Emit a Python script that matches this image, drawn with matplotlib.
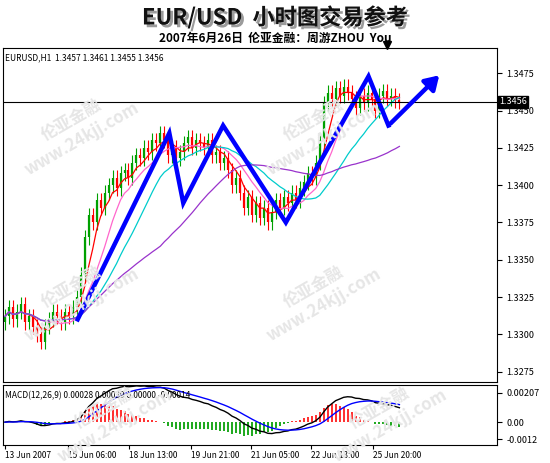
import numpy as np
import pandas as pd
import matplotlib.pyplot as plt
import matplotlib.patheffects as pe

plt.rcParams['font.family'] = ['Noto Sans CJK SC', 'DejaVu Sans']

# hourly closes
closes = [
    1.3312, 1.3318, 1.3310, 1.3315, 1.3320, 1.3308, 1.3312, 1.3305, 1.3300, 1.3295,
    1.3305, 1.3310, 1.3315, 1.3312, 1.3308, 1.3315, 1.3312, 1.3318, 1.3325, 1.3340,
    1.3365, 1.3380, 1.3375, 1.3390, 1.3385, 1.3395, 1.3400, 1.3405, 1.3398, 1.3408,
    1.3410, 1.3405, 1.3415, 1.3420, 1.3418, 1.3425, 1.3422, 1.3430, 1.3428, 1.3435,
    1.3430, 1.3420, 1.3425, 1.3418, 1.3422, 1.3428, 1.3432, 1.3425, 1.3430, 1.3428,
    1.3425, 1.3430, 1.3420, 1.3422, 1.3415, 1.3418, 1.3410, 1.3400, 1.3405, 1.3395,
    1.3385, 1.3392, 1.3380, 1.3388, 1.3378, 1.3385, 1.3375, 1.3382, 1.3390, 1.3385,
    1.3392, 1.3388, 1.3395, 1.3390, 1.3398, 1.3402, 1.3408, 1.3405, 1.3415, 1.3430,
    1.3455, 1.3462, 1.3458, 1.3465, 1.3460, 1.3466, 1.3462, 1.3458, 1.3452, 1.3460,
    1.3455, 1.3462, 1.3458, 1.3450, 1.3460, 1.3463, 1.3458, 1.3460, 1.3457, 1.3456,
]
opens = [1.3308] + closes[:-1]

# hand-drawn zigzag (bar index, price)
zig_x = [18.25, 41.25, 44.75, 54.75, 70.5, 91.25, 96.25]
zig_y = [1.3310, 1.3435, 1.3388, 1.3440, 1.3375, 1.3473, 1.3440]
arrow_end = (109.5, 1.3475)

tick_pos = [0, 15.75, 31.25, 46.75, 61.75, 76.75, 92.25]
tick_lab = ['13 Jun 2007', '15 Jun 06:00', '18 Jun 13:00', '19 Jun 21:00',
            '21 Jun 05:00', '22 Jun 13:00', '25 Jun 20:00']
price_ticks = [1.3275, 1.3300, 1.3325, 1.3350, 1.3375, 1.3400, 1.3425, 1.3450, 1.3475]

fig = plt.figure(figsize=(5.5, 4.63), dpi=100)
ax = fig.add_axes([3/550, 81/463, 494/550, 334/463])
ax2 = fig.add_axes([3/550, 18/463, 494/550, 60/463])

# watermarks
for wx, wy in [(0.14, 0.72), (0.58, 0.72), (0.14, 0.36), (0.58, 0.36), (0.2, 0.1), (0.7, 0.1)]:
    fig.text(wx, wy, '伦亚金融\nwww.24kjj.com', rotation=30, fontsize=12,
             color='#e6e6e6', fontweight='bold', ha='center', va='center', zorder=0)
ax.patch.set_alpha(0)
ax2.patch.set_alpha(0)

s = pd.Series(closes)
n = len(closes)
x = np.arange(n)
for i in range(n):
    o, c = opens[i], closes[i]
    col = '#00a000' if c >= o else '#ff0000'
    ax.vlines(i, min(o, c) - 0.0005, max(o, c) + 0.0005, color=col, lw=0.8)
    ax.vlines(i, min(o, c), max(o, c), color=col, lw=1.6)
for w, col in [(5, 'red'), (10, '#ff66cc'), (20, '#00cccc'), (40, '#9933cc')]:
    ax.plot(x, s.rolling(w, min_periods=1).mean(), color=col, lw=0.9)

ax.plot(zig_x, zig_y, color='#0000ff', lw=3.2, solid_joinstyle='miter')
ax.annotate('', xy=arrow_end, xytext=(zig_x[-1], zig_y[-1]),
            arrowprops=dict(arrowstyle='-|>,head_length=0.8,head_width=0.5',
                            color='#0000ff', lw=3.2))

ax.axhline(1.3456, color='black', lw=0.8)
ax.set_xlim(-0.5, 123.5)
ax.set_ylim(1.3268, 1.3492)
ax.yaxis.tick_right()
ax.set_yticks(price_ticks)
ax.set_yticklabels([f'{p:.4f}' for p in price_ticks], fontsize=6.5)
ax.set_xticks([])
ax.text(1.004, 1.3456, '1.3456', transform=ax.get_yaxis_transform(), fontsize=6.5,
        color='white', va='center', ha='left',
        bbox=dict(facecolor='black', edgecolor='black', pad=1))
ax.text(0.005, 0.985, 'EURUSD,H1  1.3457 1.3461 1.3455 1.3456', transform=ax.transAxes,
        fontsize=6, va='top')
ax.plot([96], [1.3494], marker='v', color='black', ms=6, clip_on=False)

# MACD
ema12 = s.ewm(span=12, adjust=False).mean()
ema26 = s.ewm(span=26, adjust=False).mean()
macd = ema12 - ema26
sig = macd.ewm(span=9, adjust=False).mean()
hist = macd - sig
ax2.bar(x, hist * 1.5, width=0.5, color=np.where(hist >= 0, '#ff3333', '#22aa22'))
ax2.plot(x, macd, color='black', lw=1)
ax2.plot(x, sig, color='#0000ff', lw=1)
ax2.set_xlim(-0.5, 123.5)
ax2.set_ylim(-0.0016, 0.0026)
ax2.yaxis.tick_right()
ax2.set_yticks([0.00207, 0.0, -0.0012])
ax2.set_yticklabels(['0.00207', '0.00', '-0.0012'], fontsize=6.5)
ax2.set_xticks(tick_pos)
ax2.set_xticklabels(tick_lab, fontsize=6, ha='left')
ax2.tick_params(axis='x', length=3, pad=1)
ax2.text(0.005, 0.9, 'MACD(12,26,9) 0.00028 0.00039 0.00000 -0.00014', transform=ax2.transAxes,
         fontsize=6, va='top')

fig.text(0.5, 0.962, 'EUR/USD  小时图交易参考', ha='center', va='center', fontsize=16,
         fontweight='bold', color='#111111',
         path_effects=[pe.withSimplePatchShadow(offset=(2, -2), alpha=0.4)])
fig.text(0.5, 0.916, '2007年6月26日  伦亚金融：周游ZHOU  You', ha='center', va='center',
         fontsize=8.5, fontweight='bold')

fig.savefig('out.png', dpi=100)
